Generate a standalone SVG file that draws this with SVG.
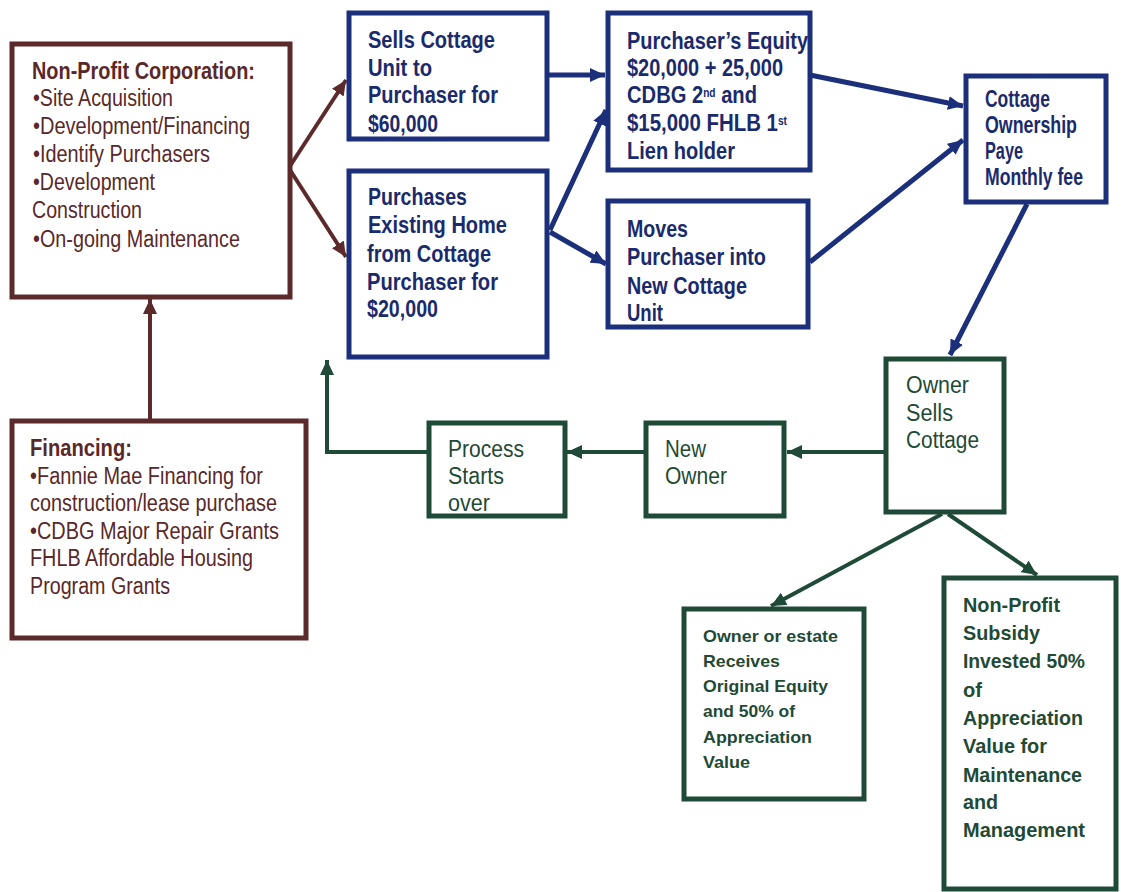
<svg xmlns="http://www.w3.org/2000/svg" width="1121" height="892" viewBox="0 0 1121 892">
<defs>
<style>
.bm{fill:#fff;stroke:#5c2a2a;stroke-width:5}
.bb{fill:#fff;stroke:#1c2f7a;stroke-width:5}
.bg{fill:#fff;stroke:#1f4a38;stroke-width:5}
.tm{font-family:"Liberation Sans",Arial,sans-serif;fill:#5a2828;font-size:23px}
.tb{font-family:"Liberation Sans",Arial,sans-serif;fill:#1a2a6c;font-size:24px;font-weight:bold}
.tg{font-family:"Liberation Sans",Arial,sans-serif;fill:#1f4a35;font-size:23px}
.tgb{font-family:"Liberation Sans",Arial,sans-serif;fill:#1f4a35;font-weight:bold}
.cm{stroke:#5c2a2a;stroke-width:4;fill:none}
.cb{stroke:#1c2f7a;stroke-width:5;fill:none}
.cg{stroke:#1f4a38;stroke-width:4;fill:none}
</style>
<marker id="am" markerUnits="userSpaceOnUse" markerWidth="16" markerHeight="14" refX="15" refY="7" orient="auto"><path d="M0,0 L15,7 L0,14 z" fill="#5c2a2a"/></marker>
<marker id="ab" markerUnits="userSpaceOnUse" markerWidth="16" markerHeight="14" refX="15" refY="7" orient="auto"><path d="M0,0 L15,7 L0,14 z" fill="#1c2f7a"/></marker>
<marker id="ag" markerUnits="userSpaceOnUse" markerWidth="16" markerHeight="14" refX="15" refY="7" orient="auto"><path d="M0,0 L15,7 L0,14 z" fill="#1f4a38"/></marker>
</defs>
<rect width="1121" height="892" fill="#fff"/>

<g id="connectors">
<line class="cm" x1="150" y1="420" x2="150" y2="299" marker-end="url(#am)"/>
<line class="cm" x1="290" y1="166" x2="346" y2="80" marker-end="url(#am)"/>
<line class="cm" x1="290" y1="170" x2="346" y2="257" marker-end="url(#am)"/>
<line class="cb" x1="548" y1="75" x2="605" y2="75" marker-end="url(#ab)"/>
<line class="cb" x1="550" y1="230" x2="606" y2="110" marker-end="url(#ab)"/>
<line class="cb" x1="550" y1="232" x2="606" y2="264" marker-end="url(#ab)"/>
<line class="cb" x1="810" y1="75" x2="963" y2="106" marker-end="url(#ab)"/>
<line class="cb" x1="810" y1="262" x2="963" y2="140" marker-end="url(#ab)"/>
<line class="cb" x1="1027" y1="204" x2="950" y2="355" marker-end="url(#ab)"/>
<line class="cg" x1="885" y1="452" x2="787" y2="452" marker-end="url(#ag)"/>
<line class="cg" x1="645" y1="452" x2="567" y2="452" marker-end="url(#ag)"/>
<polyline class="cg" points="428,452 327,452 327,360" marker-end="url(#ag)"/>
<line class="cg" x1="942" y1="514" x2="771" y2="606" marker-end="url(#ag)"/>
<line class="cg" x1="948" y1="514" x2="1037" y2="575" marker-end="url(#ag)"/>
</g>

<g id="nonprofit">
<rect class="bm" x="12" y="44" width="278" height="253"/>
<text class="tm" x="32" y="79" font-weight="bold" textLength="223" lengthAdjust="spacingAndGlyphs">Non-Profit Corporation:</text>
<text class="tm" x="33" y="106" textLength="140" lengthAdjust="spacingAndGlyphs">•Site Acquisition</text>
<text class="tm" x="33" y="134" textLength="217" lengthAdjust="spacingAndGlyphs">•Development/Financing</text>
<text class="tm" x="33" y="162" textLength="177" lengthAdjust="spacingAndGlyphs">•Identify Purchasers</text>
<text class="tm" x="33" y="190" textLength="122" lengthAdjust="spacingAndGlyphs">•Development</text>
<text class="tm" x="32" y="218" textLength="110" lengthAdjust="spacingAndGlyphs">Construction</text>
<text class="tm" x="33" y="247" textLength="207" lengthAdjust="spacingAndGlyphs">•On-going Maintenance</text>
</g>

<g id="financing">
<rect class="bm" x="12" y="421" width="294" height="217"/>
<text class="tm" x="30" y="456" font-weight="bold" textLength="102" lengthAdjust="spacingAndGlyphs">Financing:</text>
<text class="tm" x="30" y="484" textLength="233" lengthAdjust="spacingAndGlyphs">•Fannie Mae Financing for</text>
<text class="tm" x="30" y="511" textLength="247" lengthAdjust="spacingAndGlyphs">construction/lease purchase</text>
<text class="tm" x="30" y="539" textLength="249" lengthAdjust="spacingAndGlyphs">•CDBG Major Repair Grants</text>
<text class="tm" x="30" y="566" textLength="223" lengthAdjust="spacingAndGlyphs">FHLB Affordable Housing</text>
<text class="tm" x="30" y="594" textLength="140" lengthAdjust="spacingAndGlyphs">Program Grants</text>
</g>

<g id="sells">
<rect class="bb" x="349" y="13" width="198" height="126"/>
<text class="tb" x="368" y="48" textLength="127" lengthAdjust="spacingAndGlyphs">Sells Cottage</text>
<text class="tb" x="368" y="76" textLength="64" lengthAdjust="spacingAndGlyphs">Unit to</text>
<text class="tb" x="368" y="103" textLength="130" lengthAdjust="spacingAndGlyphs">Purchaser for</text>
<text class="tb" x="368" y="132" textLength="70" lengthAdjust="spacingAndGlyphs">$60,000</text>
</g>

<g id="purchases">
<rect class="bb" x="349" y="171" width="198" height="186"/>
<text class="tb" x="368" y="205" textLength="99" lengthAdjust="spacingAndGlyphs">Purchases</text>
<text class="tb" x="368" y="233" textLength="139" lengthAdjust="spacingAndGlyphs">Existing Home</text>
<text class="tb" x="367" y="262" textLength="124" lengthAdjust="spacingAndGlyphs">from Cottage</text>
<text class="tb" x="367" y="290" textLength="131" lengthAdjust="spacingAndGlyphs">Purchaser for</text>
<text class="tb" x="367" y="317" textLength="71" lengthAdjust="spacingAndGlyphs">$20,000</text>
</g>

<g id="equity">
<rect class="bb" x="608" y="13" width="202" height="157"/>
<text class="tb" x="627" y="49" textLength="181" lengthAdjust="spacingAndGlyphs">Purchaser’s Equity</text>
<text class="tb" x="627" y="76" textLength="156" lengthAdjust="spacingAndGlyphs">$20,000 + 25,000</text>
<text class="tb" x="627" y="103" textLength="130" lengthAdjust="spacingAndGlyphs">CDBG 2<tspan font-size="12" dy="-6">nd</tspan><tspan dy="6"> and</tspan></text>
<text class="tb" x="627" y="131" textLength="160" lengthAdjust="spacingAndGlyphs">$15,000 FHLB 1<tspan font-size="12" dy="-6">st</tspan></text>
<text class="tb" x="627" y="159" textLength="108" lengthAdjust="spacingAndGlyphs">Lien holder</text>
</g>

<g id="moves">
<rect class="bb" x="608" y="201" width="200" height="126"/>
<text class="tb" x="627" y="237" textLength="61" lengthAdjust="spacingAndGlyphs">Moves</text>
<text class="tb" x="627" y="265" textLength="139" lengthAdjust="spacingAndGlyphs">Purchaser into</text>
<text class="tb" x="627" y="294" textLength="120" lengthAdjust="spacingAndGlyphs">New Cottage</text>
<text class="tb" x="627" y="321" textLength="36" lengthAdjust="spacingAndGlyphs">Unit</text>
</g>

<g id="ownership">
<rect class="bb" x="966" y="76" width="140" height="126"/>
<text class="tb" x="985" y="107" font-size="20" textLength="65" lengthAdjust="spacingAndGlyphs">Cottage</text>
<text class="tb" x="985" y="133" font-size="20" textLength="92" lengthAdjust="spacingAndGlyphs">Ownership</text>
<text class="tb" x="985" y="159" font-size="20" textLength="38" lengthAdjust="spacingAndGlyphs">Paye</text>
<text class="tb" x="985" y="185" font-size="20" textLength="98" lengthAdjust="spacingAndGlyphs">Monthly fee</text>
</g>

<g id="ownersells">
<rect class="bg" x="886" y="359" width="118" height="153"/>
<text class="tg" x="906" y="393" textLength="63" lengthAdjust="spacingAndGlyphs">Owner</text>
<text class="tg" x="906" y="421" textLength="47" lengthAdjust="spacingAndGlyphs">Sells</text>
<text class="tg" x="906" y="448" textLength="73" lengthAdjust="spacingAndGlyphs">Cottage</text>
</g>

<g id="newowner">
<rect class="bg" x="646" y="423" width="138" height="93"/>
<text class="tg" x="665" y="457" textLength="41" lengthAdjust="spacingAndGlyphs">New</text>
<text class="tg" x="665" y="484" textLength="62" lengthAdjust="spacingAndGlyphs">Owner</text>
</g>

<g id="process">
<rect class="bg" x="429" y="423" width="136" height="93"/>
<text class="tg" x="448" y="457" textLength="76" lengthAdjust="spacingAndGlyphs">Process</text>
<text class="tg" x="448" y="484" textLength="56" lengthAdjust="spacingAndGlyphs">Starts</text>
<text class="tg" x="448" y="511" textLength="42" lengthAdjust="spacingAndGlyphs">over</text>
</g>

<g id="ownerestate">
<rect class="bg" x="684" y="609" width="180" height="190"/>
<text class="tgb" x="703" y="642" font-size="17" textLength="135" lengthAdjust="spacingAndGlyphs">Owner or estate</text>
<text class="tgb" x="703" y="667" font-size="17" textLength="77" lengthAdjust="spacingAndGlyphs">Receives</text>
<text class="tgb" x="703" y="692" font-size="17" textLength="125" lengthAdjust="spacingAndGlyphs">Original Equity</text>
<text class="tgb" x="703" y="717" font-size="17" textLength="92" lengthAdjust="spacingAndGlyphs">and 50% of</text>
<text class="tgb" x="703" y="743" font-size="17" textLength="109" lengthAdjust="spacingAndGlyphs">Appreciation</text>
<text class="tgb" x="703" y="768" font-size="17" textLength="47" lengthAdjust="spacingAndGlyphs">Value</text>
</g>

<g id="subsidy">
<rect class="bg" x="944" y="578" width="172" height="311"/>
<text class="tgb" x="963" y="612" font-size="21" textLength="97" lengthAdjust="spacingAndGlyphs">Non-Profit</text>
<text class="tgb" x="963" y="640" font-size="21" textLength="77" lengthAdjust="spacingAndGlyphs">Subsidy</text>
<text class="tgb" x="963" y="668" font-size="21" textLength="122" lengthAdjust="spacingAndGlyphs">Invested 50%</text>
<text class="tgb" x="963" y="697" font-size="21" textLength="19" lengthAdjust="spacingAndGlyphs">of</text>
<text class="tgb" x="963" y="725" font-size="21" textLength="120" lengthAdjust="spacingAndGlyphs">Appreciation</text>
<text class="tgb" x="963" y="753" font-size="21" textLength="84" lengthAdjust="spacingAndGlyphs">Value for</text>
<text class="tgb" x="963" y="782" font-size="21" textLength="119" lengthAdjust="spacingAndGlyphs">Maintenance</text>
<text class="tgb" x="963" y="809" font-size="21" textLength="35" lengthAdjust="spacingAndGlyphs">and</text>
<text class="tgb" x="963" y="837" font-size="21" textLength="122" lengthAdjust="spacingAndGlyphs">Management</text>
</g>
</svg>
